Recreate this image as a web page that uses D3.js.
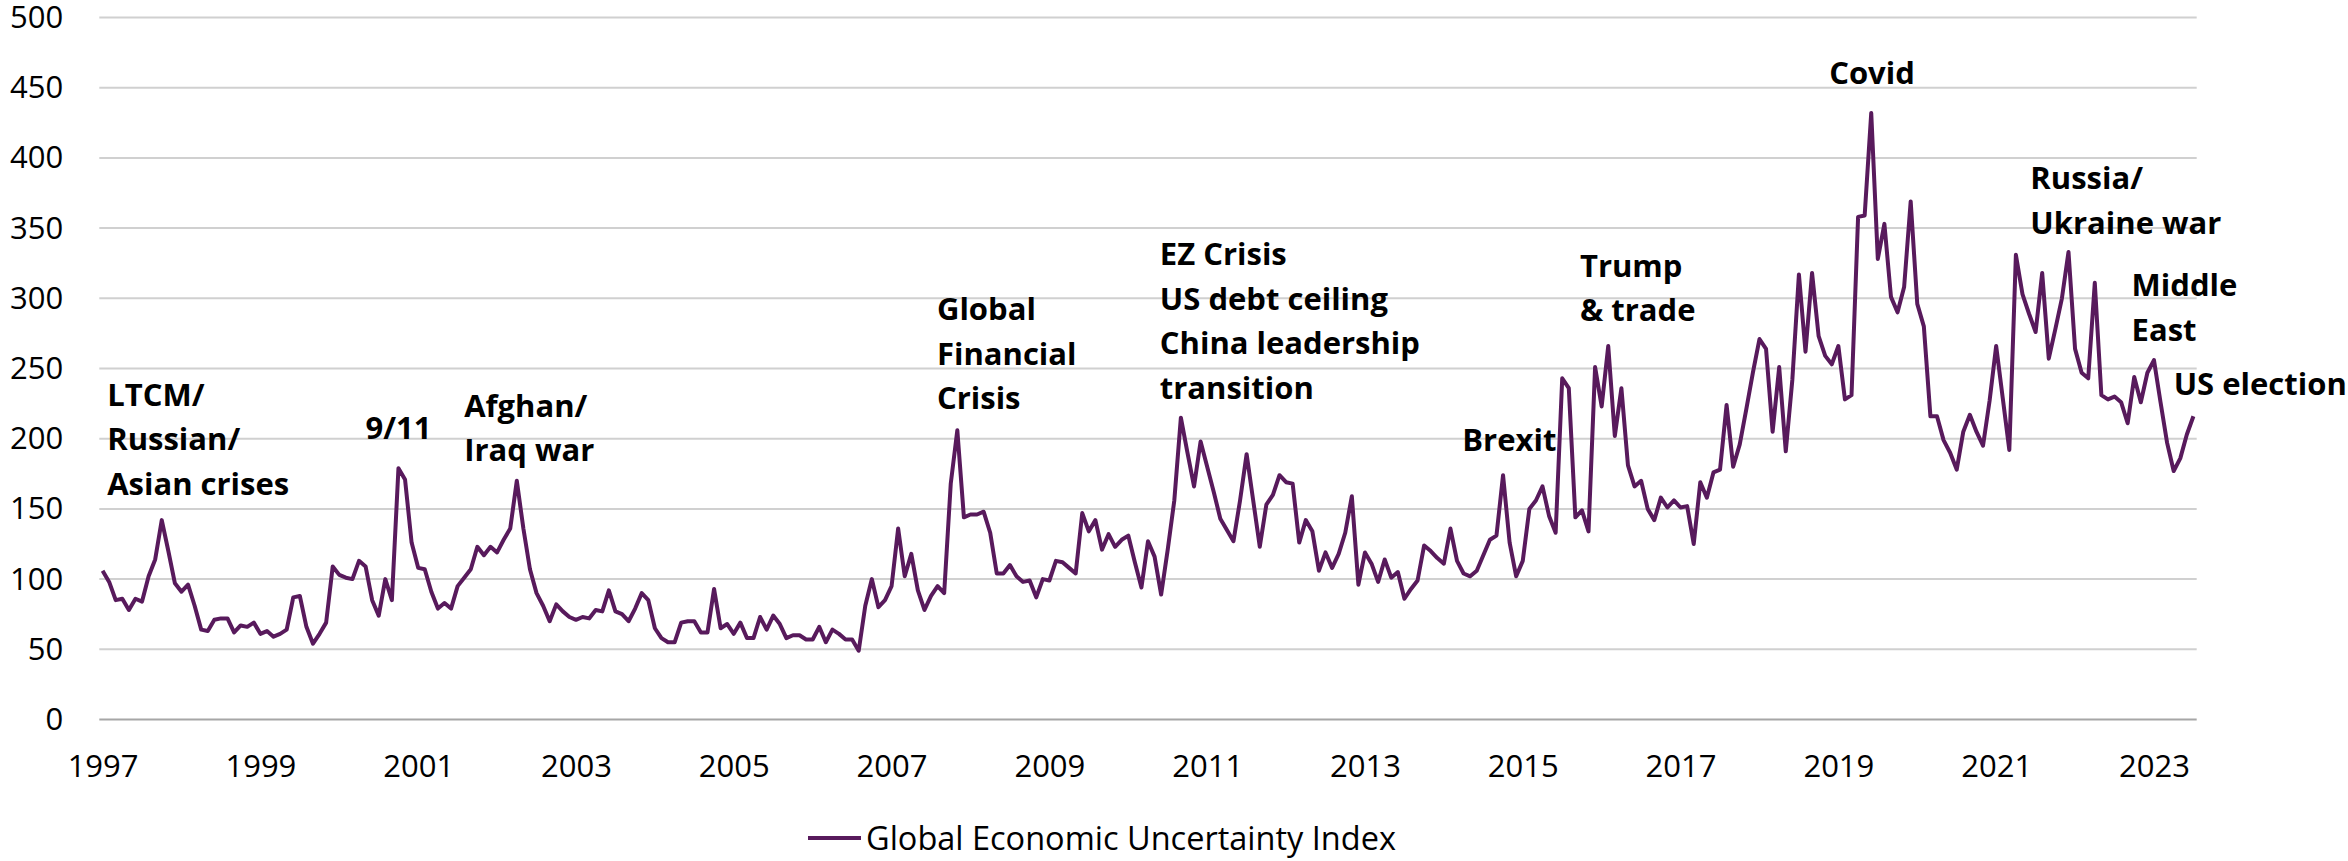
<!DOCTYPE html>
<html>
<head>
<meta charset="utf-8">
<title>Global Economic Uncertainty Index</title>
<script src="https://cdn.jsdelivr.net/npm/d3@7"></script>
<style>
  html, body { margin: 0; padding: 0; background: #ffffff; }
  svg { display: block; }
</style>
</head>
<body>
<svg id="chart" width="2348" height="861"></svg>
<script>
// Monthly index readings, one value per month from the first labelled year onwards
const gepu = [
  106, 98, 85, 86, 78, 86, 84, 102, 114, 142,
  120, 97, 91, 96, 81, 64, 63, 71, 72, 72,
  62, 67, 66, 69, 61, 63, 59, 61, 64, 87,
  88, 66, 54, 61, 69, 109, 103, 101, 100, 113,
  109, 85, 74, 100, 85, 179, 171, 126, 108, 107,
  91, 79, 83, 79, 95, 101, 107, 123, 117, 123,
  119, 128, 136, 170, 136, 107, 90, 81, 70, 82,
  77, 73, 71, 73, 72, 78, 77, 92, 77, 75,
  70, 79, 90, 85, 65, 58, 55, 55, 69, 70,
  70, 62, 62, 93, 65, 68, 61, 69, 58, 58,
  73, 64, 74, 68, 58, 60, 60, 57, 57, 66,
  55, 64, 61, 57, 57, 49, 81, 100, 80, 85,
  95, 136, 102, 118, 92, 78, 88, 95, 90, 168,
  206, 144, 146, 146, 148, 133, 104, 104, 110, 102,
  98, 99, 87, 100, 99, 113, 112, 108, 104, 147,
  134, 142, 121, 132, 123, 128, 131, 112, 94, 127,
  116, 89, 121, 156, 215, 190, 166, 198, 180, 162,
  143, 135, 127, 156, 189, 156, 123, 153, 160, 174,
  169, 168, 126, 142, 134, 106, 119, 108, 118, 133,
  159, 96, 119, 111, 98, 114, 101, 105, 86, 93,
  99, 124, 120, 115, 111, 136, 113, 104, 102, 106,
  117, 128, 131, 174, 126, 102, 113, 150, 156, 166,
  145, 133, 243, 236, 144, 149, 134, 251, 223, 266,
  202, 236, 181, 166, 170, 150, 142, 158, 151, 156,
  151, 152, 125, 169, 158, 176, 178, 224, 180, 196,
  221, 247, 271, 264, 205, 251, 191, 242, 317, 262,
  318, 273, 259, 253, 266, 228, 231, 358, 359, 432,
  328, 353, 301, 290, 308, 369, 296, 280, 216, 216,
  199, 190, 178, 205, 217, 205, 195, 227, 266, 229,
  192, 331, 303, 289, 276, 318, 257, 278, 300, 333,
  264, 247, 243, 311, 231, 228, 230, 226, 211, 244,
  226, 247, 256, 226, 197, 177, 186, 203, 216
];

// Category labels, one every 24 months
const yearLabels = ["1997", "1999", "2001", "2003", "2005", "2007", "2009",
                    "2011", "2013", "2015", "2017", "2019", "2021", "2023"];
const monthsPerLabel = 24;

const yTicks = [0, 50, 100, 150, 200, 250, 300, 350, 400, 450, 500];

const seriesName = "Global Economic Uncertainty Index";

// Event notes: text lines, anchored at (month index, index level) of the first line
const eventNotes = [
  ["LTCM/", "Russian/", "Asian crises"],
  ["9/11"],
  ["Afghan/", "Iraq war"],
  ["Global", "Financial", "Crisis"],
  ["EZ Crisis", "US debt ceiling", "China leadership", "transition"],
  ["Brexit"],
  ["Trump", "& trade"],
  ["Covid"],
  ["Russia/", "Ukraine war"],
  ["Middle", "East"],
  ["US election"]
];
const noteMonth = [0.7, 40, 55, 126.9, 160.8, 206.8, 224.7, 262.6, 293.2, 308.6, 315];
const noteLevel = [223.3, 199.8, 215.5, 284.5, 323.7, 190.9, 315.4, 452.6, 377.6, 301.6, 231.1];

// ---- layout ----
const width = 2348, height = 861;
const plot = { left: 99.3, right: 2196.7, top: 17.5, bottom: 719.5 };
const lineColor = "#581a5c";
const fontFamily = "'Open Sans', 'Liberation Sans', sans-serif";

const svg = d3.select("#chart");
svg.append("rect").attr("width", width).attr("height", height).attr("fill", "#ffffff");

// Months sit in the middle of their category slot
const x = d3.scaleLinear()
  .domain([-0.5, gepu.length - 0.5])
  .range([plot.left, plot.right]);

const y = d3.scaleLinear()
  .domain([0, 500])
  .range([plot.bottom, plot.top]);

// Horizontal gridlines
svg.append("g")
  .selectAll("line")
  .data(yTicks)
  .join("line")
  .attr("x1", plot.left)
  .attr("x2", plot.right)
  .attr("y1", d => y(d))
  .attr("y2", d => y(d))
  .attr("stroke", d => d === 0 ? "#a6a6a6" : "#d0d0d0")
  .attr("stroke-width", 2);

// Value axis labels
const yAxis = svg.append("g")
  .attr("transform", `translate(${plot.left},0)`)
  .call(d3.axisLeft(y).tickValues(yTicks).tickSize(0).tickPadding(36));
yAxis.select(".domain").remove();
yAxis.selectAll("text")
  .attr("font-family", fontFamily)
  .attr("font-size", 31)
  .attr("fill", "#000000");

// Category axis labels
const labelMonths = d3.range(0, gepu.length, monthsPerLabel);
const xAxis = svg.append("g")
  .attr("transform", `translate(0,${plot.bottom})`)
  .call(d3.axisBottom(x)
    .tickValues(labelMonths)
    .tickFormat((d, i) => yearLabels[i])
    .tickSize(0)
    .tickPadding(35.5));
xAxis.select(".domain").remove();
xAxis.selectAll("text")
  .attr("font-family", fontFamily)
  .attr("font-size", 31)
  .attr("fill", "#000000");

// Index line
const line = d3.line()
  .x((d, i) => x(i))
  .y(d => y(d));

svg.append("path")
  .datum(gepu)
  .attr("d", line)
  .attr("fill", "none")
  .attr("stroke", lineColor)
  .attr("stroke-width", 4)
  .attr("stroke-linejoin", "round")
  .attr("stroke-linecap", "butt");

// Event notes
const lineGap = 44.5;
const notes = svg.append("g")
  .attr("font-family", fontFamily)
  .attr("font-size", 31)
  .attr("font-weight", 700)
  .attr("fill", "#000000");

eventNotes.forEach((lines, k) => {
  const t = notes.append("text")
    .attr("x", x(noteMonth[k]))
    .attr("y", y(noteLevel[k]));
  lines.forEach((s, j) => {
    t.append("tspan")
      .attr("x", x(noteMonth[k]))
      .attr("dy", j === 0 ? 0 : lineGap)
      .text(s);
  });
});

// Legend
const legend = svg.append("g").attr("transform", "translate(808,838)");
legend.append("line")
  .attr("x1", 0).attr("x2", 53)
  .attr("y1", 0).attr("y2", 0)
  .attr("stroke", lineColor)
  .attr("stroke-width", 4);
legend.append("text")
  .attr("x", 58)
  .attr("y", 11.5)
  .attr("font-family", fontFamily)
  .attr("font-size", 32.5)
  .attr("fill", "#000000")
  .text(seriesName);
</script>
</body>
</html>
